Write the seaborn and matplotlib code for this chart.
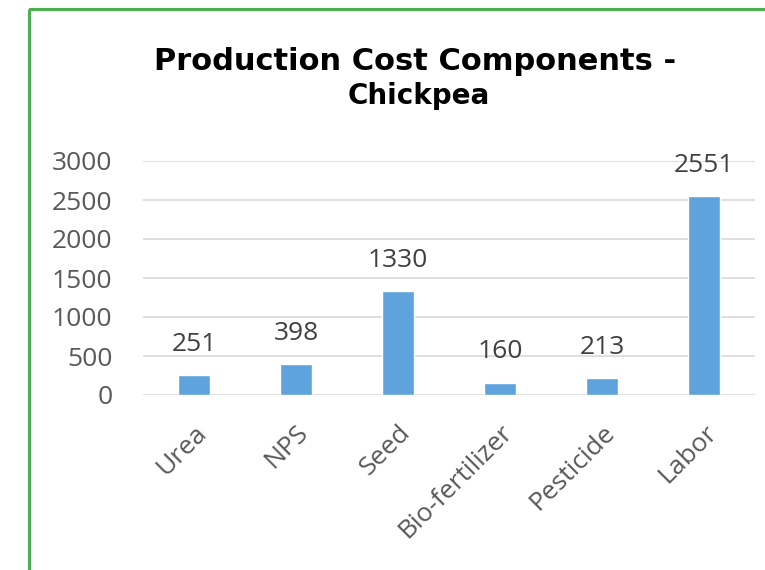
import matplotlib
matplotlib.use("Agg")
import matplotlib.pyplot as plt
import seaborn as sns
import pandas as pd
from matplotlib.patches import Rectangle

categories = ["Urea", "NPS", "Seed", "Bio-fertilizer", "Pesticide", "Labor"]
values = [251, 398, 1330, 160, 213, 2551]
yticks = [0, 500, 1000, 1500, 2000, 2500, 3000]

sns.set_theme(style="white")
plt.rcParams['font.family'] = ['Open Sans', 'DejaVu Sans']

W, H = 765, 570
fig = plt.figure(figsize=(W / 100, H / 100), dpi=100)
ax = fig.add_axes([143 / W, (H - 395) / H, (755 - 143) / W, (395 - 161) / H])

df = pd.DataFrame({"Component": categories, "Cost": values})
sns.barplot(data=df, x="Component", y="Cost", color="#5FA3DC", width=0.31,
            saturation=1, ax=ax, zorder=3)

ax.set_ylim(0, 3000)
ax.set_yticks(yticks)
ax.set_yticklabels([str(t) for t in yticks])
ax.yaxis.grid(True, color="#D9D9D9", linewidth=1.2, zorder=0)
ax.xaxis.grid(False)
for s in ax.spines.values():
    s.set_visible(False)
ax.set_xlabel("")
ax.set_ylabel("")
ax.tick_params(axis="y", length=0, pad=22, labelsize=19, labelcolor="#595959")
ax.tick_params(axis="x", length=0, pad=18, labelsize=19, labelcolor="#595959")
for lbl in ax.get_xticklabels():
    lbl.set_rotation(45)
    lbl.set_ha("right")
    lbl.set_va("top")
    lbl.set_rotation_mode("anchor")

for i, v in enumerate(values):
    ax.annotate(str(v), (i, v), xytext=(0, 13), textcoords="offset points",
                ha="center", va="bottom", fontsize=19, color="#404040",
                clip_on=False)

fig.text(415 / W, 1 - 61 / H, "Production Cost Components -", ha="center", va="center",
         fontsize=22, fontweight="bold", color="black", family="DejaVu Sans")
fig.text(419 / W, 1 - 96 / H, "Chickpea", ha="center", va="center",
         fontsize=20, fontweight="bold", color="black", family="DejaVu Sans")

green = "#4CB050"
fig.patches.append(Rectangle((28.5 / W, 0), 0, (H - 8.5) / H, transform=fig.transFigure,
                             fill=False, edgecolor=green, linewidth=2.2))
fig.patches.append(Rectangle((28.5 / W, (H - 8.5) / H), 1, 0, transform=fig.transFigure,
                             fill=False, edgecolor=green, linewidth=2.2))

fig.savefig("out.png", dpi=100, facecolor="white")
